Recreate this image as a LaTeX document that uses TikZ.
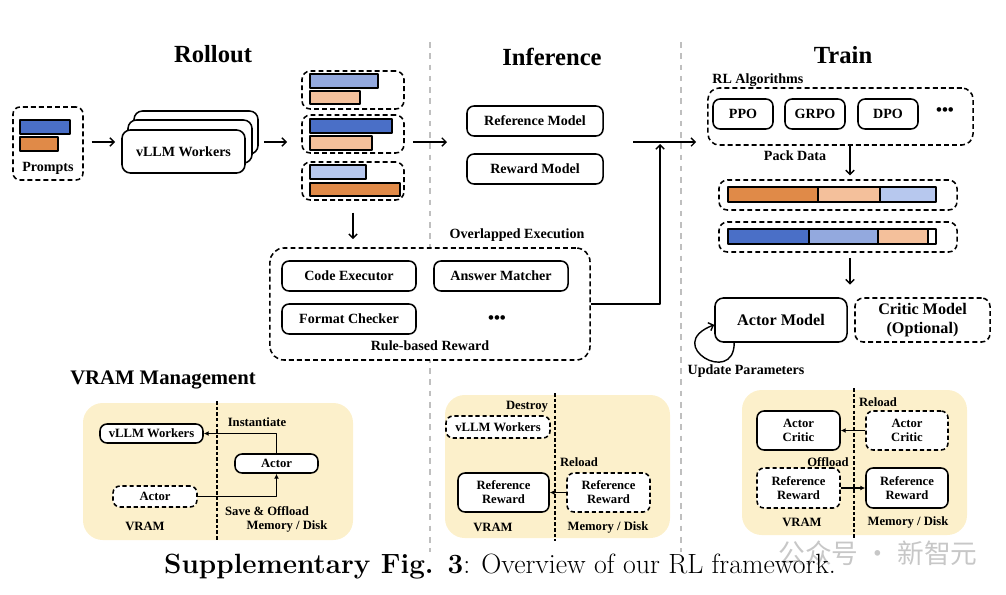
\documentclass[tikz,border=0pt]{standalone}
\usepackage{fontspec}
\newfontfamily\tnr{Liberation Serif}
\newfontfamily\cjk{Noto Sans CJK SC}
\usetikzlibrary{arrows.meta}
\definecolor{dblue}{HTML}{4A6FC7}
\definecolor{mblue}{HTML}{93A9DE}
\definecolor{lblue}{HTML}{B7C8EE}
\definecolor{dorange}{HTML}{E08A48}
\definecolor{lorange}{HTML}{F4C09B}
\definecolor{cream}{HTML}{FCF0CB}
\begin{document}
\begin{tikzpicture}[x=0.025cm, y=-0.025cm, line width=1pt, line join=round, >={Straight Barb[length=3pt,width=6pt]},
 font=\tnr\bfseries\fontsize{10}{12}\selectfont,
 box/.style={draw, fill=white, rounded corners=5pt, line width=1.1pt, inner sep=0pt, align=center, minimum height=0.75cm},
 dbox/.style={box, dash pattern=on 3.5pt off 2.2pt},
 card/.style={draw, fill=white, rounded corners=6pt, line width=1.1pt},
 bar/.style={draw, line width=0.9pt},
 sep/.style={draw=black!25, line width=1.1pt, dash pattern=on 4pt off 4pt},
 pdiv/.style={draw, line width=0.9pt, dash pattern=on 2.5pt off 1.5pt},
 title/.style={font=\tnr\bfseries\fontsize{17.5}{20}\selectfont},
 lbl/.style={font=\tnr\bfseries\fontsize{9}{10}\selectfont},
 small/.style={box, font=\tnr\bfseries\fontsize{9}{10}\selectfont},
 smalld/.style={small, dash pattern=on 3pt off 2pt},
 big/.style={font=\tnr\bfseries\fontsize{11.5}{14}\selectfont},
 dots/.style={font=\tnr\bfseries\fontsize{12}{12}\selectfont},
 tip/.style={-{Latex[length=3.5pt,width=3.5pt]}, line width=0.8pt}]
 \useasboundingbox (0,0) rectangle (1006,594);
 % section dividers
 \draw[sep] (430,42) -- (430,552);
 \draw[sep] (681,42) -- (681,552);
 \node[title] (trollout) at (213,54) {Rollout};
 \node[title] (tinfer) at (552,57) {Inference};
 \node[title] (ttrain) at (843,55) {Train};
 % rollout
 \node[dbox, minimum width=1.75cm, minimum height=1.825cm] (prompts) at (48,143.5) {};
 \filldraw[bar, fill=dblue] (20,120) rectangle (70,134);
 \filldraw[bar, fill=dorange] (20,137) rectangle (58,151);
 \node (ptxt) at (48,168) {Prompts};
 \draw[card] (134,111) rectangle (258,154);
 \draw[card] (128,120) rectangle (252,163);
 \node[box, rounded corners=6pt, minimum width=3.075cm, minimum height=1.075cm] (vllm) at (183.5,151.5) {vLLM Workers};
 \node[dbox, rounded corners=6pt, minimum width=2.55cm, minimum height=0.95cm] (grp1) at (353,90) {};
 \node[dbox, rounded corners=6pt, minimum width=2.55cm, minimum height=0.95cm] (grp2) at (353,134) {};
 \node[dbox, rounded corners=6pt, minimum width=2.55cm, minimum height=0.95cm] (grp3) at (353,181) {};
 \filldraw[bar, fill=mblue] (310,74) rectangle (378,88);
 \filldraw[bar, fill=lorange] (310,91) rectangle (360,104);
 \filldraw[bar, fill=dblue] (310,119) rectangle (392,133);
 \filldraw[bar, fill=lorange] (310,136) rectangle (372,150);
 \filldraw[bar, fill=lblue] (310,165) rectangle (366,179);
 \filldraw[bar, fill=dorange] (310,183) rectangle (400,196);
 \draw[->, shorten <=5.5pt, shorten >=4.3pt] (prompts.east |- 0,142) -- (vllm.west |- 0,142);
 \draw[->, shorten <=12.8pt, shorten >=10pt] (vllm.east |- 0,142) -- (grp2.west |- 0,142);
 \coordinate (inin) at (447,142);
 \draw[->, shorten <=5.7pt] (grp2.east |- 0,142) -- (inin);
 % rule-based reward
 \node[dbox, rounded corners=10pt, minimum width=8cm, minimum height=2.8cm] (rule) at (430,304) {};
 \node (ovl) at (517,235) {Overlapped Execution};
 \node (rtxt) at (430,346) {Rule-based Reward};
 \node[box, minimum width=3.35cm] (code) at (349,276) {Code Executor};
 \node[box, minimum width=3.35cm] (answer) at (501,276) {Answer Matcher};
 \node[box, minimum width=3.35cm] (format) at (349,319) {Format Checker};
 \node[dots] (rdots) at (497,320) {\textbullet\textbullet\textbullet};
 \draw[->, shorten <=8.5pt, shorten >=5.7pt] (grp3.south) -- (rule.north -| grp3.south);
 % inference
 \node[box, minimum width=3.4cm] (refm) at (535,121) {Reference Model};
 \node[box, minimum width=3.4cm] (rewm) at (535,169) {Reward Model};
 \coordinate (inout) at (633,142);
 \coordinate (joint) at (660,144);
 \draw[->] (rule.east) -| (joint);
 % train
 \node[dbox, rounded corners=8pt, minimum width=6.625cm, minimum height=1.425cm] (rl) at (840.5,116.5) {};
 \node[anchor=west] (rltxt) at (707,80) {RL Algorithms};
 \node[box, minimum width=1.5cm] (ppo) at (743,114) {PPO};
 \node[box, minimum width=1.5cm] (grpo) at (815,114) {GRPO};
 \node[box, minimum width=1.5cm] (dpo) at (888,114) {DPO};
 \node[dots] (rldots) at (945,112) {\textbullet\textbullet\textbullet};
 \draw[->, shorten >=7.8pt] (inout) -- (rl.west |- 0,142);
 \node (pack) at (795,156) {Pack Data};
 \node[dbox, rounded corners=6pt, minimum width=5.95cm] (pack1) at (838,195) {};
 \node[dbox, rounded corners=6pt, minimum width=5.95cm] (pack2) at (838,237) {};
 \filldraw[bar, fill=dorange] (728,187) rectangle (818,202);
 \filldraw[bar, fill=lorange] (818,187) rectangle (880,202);
 \filldraw[bar, fill=lblue] (880,187) rectangle (936,202);
 \filldraw[bar, fill=dblue] (728,229) rectangle (809,244);
 \filldraw[bar, fill=mblue] (809,229) rectangle (878,244);
 \filldraw[bar, fill=lorange] (878,229) rectangle (928,244);
 \filldraw[bar, fill=white] (928,229) rectangle (936,244);
 \node[box, big, rounded corners=6pt, minimum width=3.3cm, minimum height=1.1cm] (actor) at (781,320) {Actor Model};
 \node[dbox, big, rounded corners=6pt, minimum width=3.375cm, minimum height=1.1cm] (critic) at (922.5,320) {Critic Model\\(Optional)};
 \draw[->, shorten >=2.8pt] (rl.south -| 850,0) -- (pack1.north -| 850,0);
 \draw[->, shorten <=4pt, shorten >=9pt] (pack2.south -| 850,0) -- (actor.north -| 850,0);
 \draw[->] ([xshift=0.5cm]actor.south west) .. controls +(0cm,-1.1cm) and +(-1.3cm,-0.5cm) .. ([yshift=-0.12cm]actor.west);
 \node (upd) at (746,371) {Update Parameters};
 % vram management
 \node[font=\tnr\bfseries\fontsize{14.7}{17}\selectfont] (tvram) at (163,380) {VRAM Management};
 \fill[cream, rounded corners=14pt] (83,403) rectangle (353,540);
 \draw[pdiv] (217,401) -- (217,541);
 \node[small, minimum width=2.575cm, minimum height=0.475cm] (vllmB) at (151.5,433.5) {vLLM Workers};
 \node[lbl] (inst) at (257,422) {Instantiate};
 \node[small, minimum width=2.075cm, minimum height=0.475cm] (actB) at (276.5,463.5) {Actor};
 \node[smalld, minimum width=2.1cm, minimum height=0.525cm] (actA) at (155,496.5) {Actor};
 \node[lbl] (save) at (267,511) {Save \& Offload};
 \node[lbl] (memA) at (287,526) {Memory / Disk};
 \node[lbl] (vrA) at (145,526) {VRAM};
 \draw[tip] (actB.north) |- (vllmB.east);
 \draw[tip] (actA.east) -| (actB.south);
 \fill[cream, rounded corners=14pt] (445,395) rectangle (670,538);
 \draw[pdiv] (555,393) -- (555,541);
 \node[lbl] (destroy) at (527,407) {Destroy};
 \node[smalld, minimum width=2.6cm, minimum height=0.55cm] (vllmC) at (498,427) {vLLM Workers};
 \node[lbl] (reloadB) at (579,462) {Reload};
 \node[small, minimum width=2.275cm, minimum height=0.975cm] (refS) at (503.5,492.5) {Reference\\Reward};
 \node[smalld, minimum width=2.075cm, minimum height=0.975cm] (refD) at (608.5,492.5) {Reference\\Reward};
 \node[lbl] (vrB) at (493,527) {VRAM};
 \node[lbl] (memB) at (608,527) {Memory / Disk};
 \draw[tip] (refD.west) -- (refS.east);
 \fill[cream, rounded corners=14pt] (742,390) rectangle (967,535);
 \draw[pdiv] (854,388) -- (854,538);
 \node[lbl] (reloadC) at (878,402) {Reload};
 \node[small, minimum width=2.075cm, minimum height=0.975cm] (acS) at (798.5,430.5) {Actor\\Critic};
 \node[smalld, minimum width=2.05cm, minimum height=0.975cm] (acD) at (907,430.5) {Actor\\Critic};
 \node[lbl] (offl) at (828,462) {Offload};
 \node[smalld, minimum width=2.075cm, minimum height=1cm] (rrD) at (798.5,488) {Reference\\Reward};
 \node[small, minimum width=2.05cm, minimum height=1cm] (rrS) at (907,488) {Reference\\Reward};
 \node[lbl] (vrC) at (802,522) {VRAM};
 \node[lbl] (memC) at (908,522) {Memory / Disk};
 \draw[tip] (acD.west) -- (acS.east);
 \draw[tip] (rrD.east) -- (rrS.west);
 % caption
 \node[text=black!22, font=\cjk\fontsize{19}{21}\selectfont] (wm) at (878,553) {公众号 · 新智元};
 \node[font=\rmfamily\mdseries\fontsize{19.8}{23}\selectfont] (cap) at (500,567) {\textbf{Supplementary Fig. 3}: Overview of our RL framework.};
\end{tikzpicture}
\end{document}
